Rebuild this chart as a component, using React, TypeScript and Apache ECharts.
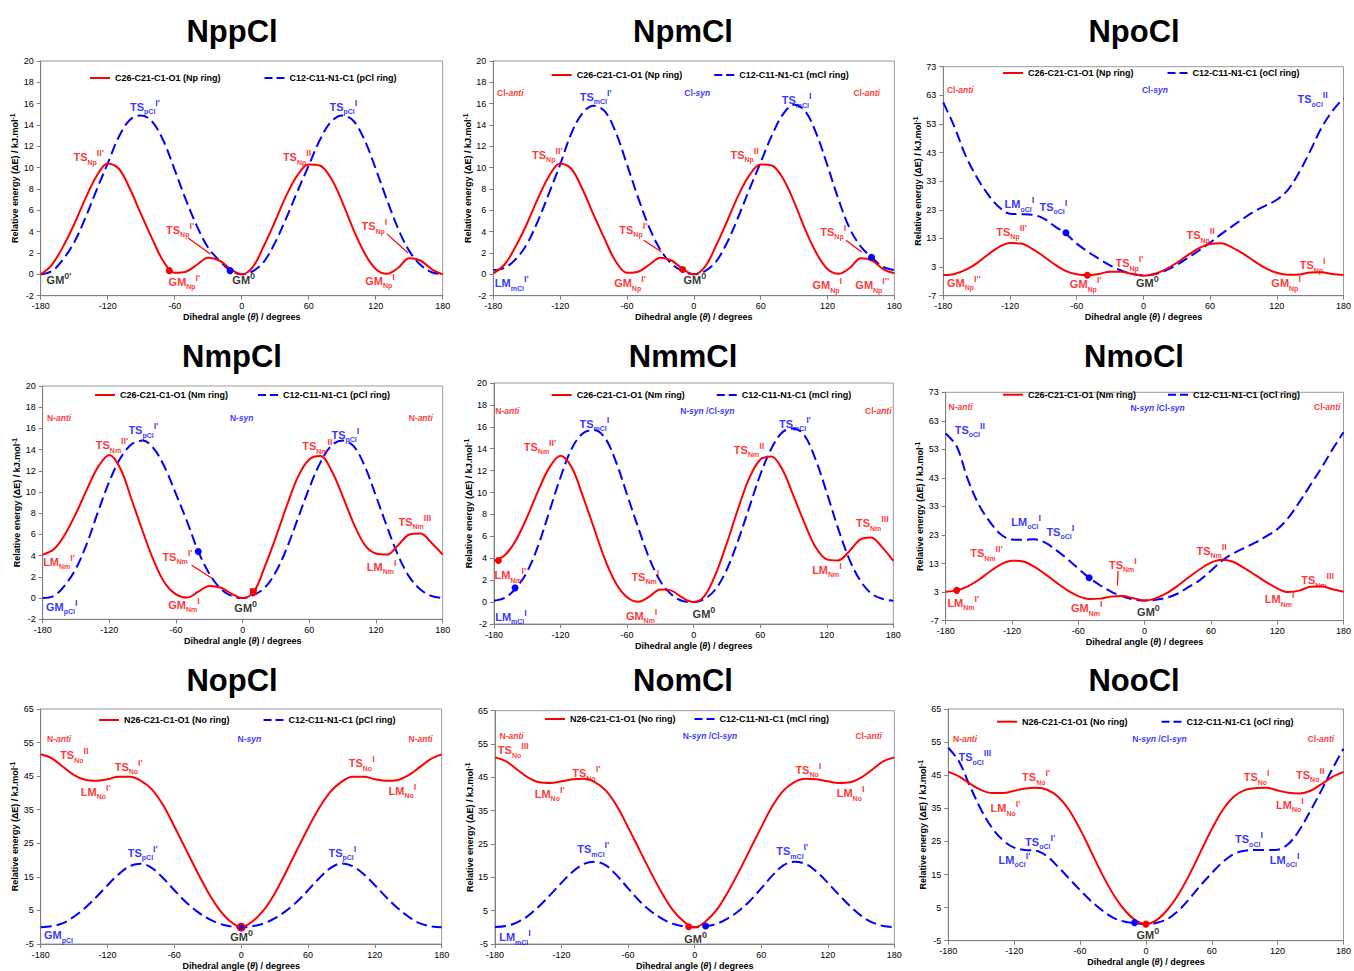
import { useEffect, useRef } from 'react';
import * as echarts from 'echarts';

const FONT = '"Liberation Sans", Arial, Helvetica, sans-serif';
const RED = '#ff0000';
const BLUE = '#0000ff';
const COLORS: Record<string, string> = { r: RED, b: BLUE, k: '#000000' };

// ---------- data ----------
const angles = [-180, -170, -160, -150, -140, -130, -120, -110, -100, -90, -80, -70, -60, -50, -40, -30, -20, -10, 0,
  10, 20, 30, 40, 50, 60, 70, 80, 90, 100, 110, 120, 130, 140, 150, 160, 170, 180];
const xTicks = [-180, -120, -60, 0, 60, 120, 180];
const yTicksSmall = [-2, 0, 2, 4, 6, 8, 10, 12, 14, 16, 18, 20];
const yTicksOCl = [-7, 3, 13, 23, 33, 43, 53, 63, 73];
const yTicksNo = [-5, 5, 15, 25, 35, 45, 55, 65];

const titles = ['NppCl', 'NpmCl', 'NpoCl', 'NmpCl', 'NmmCl', 'NmoCl', 'NopCl', 'NomCl', 'NooCl'];
const redNames = [
  'C26-C21-C1-O1 (Np ring)', 'C26-C21-C1-O1 (Np ring)', 'C26-C21-C1-O1 (Np ring)',
  'C26-C21-C1-O1 (Nm ring)', 'C26-C21-C1-O1 (Nm ring)', 'C26-C21-C1-O1 (Nm ring)',
  'N26-C21-C1-O1 (No ring)', 'N26-C21-C1-O1 (No ring)', 'N26-C21-C1-O1 (No ring)',
];
const blueNames = [
  'C12-C11-N1-C1 (pCl ring)', 'C12-C11-N1-C1 (mCl ring)', 'C12-C11-N1-C1 (oCl ring)',
  'C12-C11-N1-C1 (pCl ring)', 'C12-C11-N1-C1 (mCl ring)', 'C12-C11-N1-C1 (oCl ring)',
  'C12-C11-N1-C1 (pCl ring)', 'C12-C11-N1-C1 (mCl ring)', 'C12-C11-N1-C1 (oCl ring)',
];

const nppRed = [0, 0.9, 2.6, 4.7, 7.1, 9.2, 10.4, 9.9, 8.0, 5.6, 3.3, 1.2, 0.15, 0.25, 0.9, 1.55, 1.3, 0.5, 0,
  0.7, 2.7, 5.0, 7.4, 9.3, 10.3, 10.2, 9.0, 6.8, 4.2, 2.0, 0.5, 0.05, 0.6, 1.5, 1.3, 0.5, 0];
const nppBlue = [0, 0.3, 1.4, 3.0, 5.3, 7.9, 10.4, 12.9, 14.5, 14.9, 14.3, 12.5, 9.8, 7.0, 4.5, 2.5, 1.3, 0.35, 0,
  0.3, 1.2, 3.0, 5.3, 7.8, 10.2, 12.6, 14.3, 14.9, 14.4, 12.6, 9.9, 7.0, 4.3, 2.2, 0.9, 0.2, 0];
const npmRed = [0.1, 0.9, 2.6, 4.7, 7.1, 9.2, 10.4, 9.9, 8.0, 5.6, 3.3, 1.2, 0.15, 0.25, 0.9, 1.55, 1.3, 0.5, 0,
  0.7, 2.7, 5.0, 7.4, 9.3, 10.3, 10.2, 9.0, 6.8, 4.2, 2.0, 0.5, 0.05, 0.6, 1.5, 1.3, 0.5, 0.1];
const npmBlue = [0.4, 0.6, 1.4, 2.8, 5.0, 7.6, 10.3, 13.2, 15.1, 15.8, 15.3, 13.3, 10.3, 7.2, 4.4, 2.3, 1.0, 0.3, 0,
  0.3, 1.2, 3.0, 5.4, 8.0, 10.5, 13.0, 15.0, 15.9, 15.3, 13.2, 10.2, 7.0, 4.3, 2.6, 1.55, 0.7, 0.4];
const npoRed = [0.2, 0.6, 2.0, 4.3, 7.3, 10.0, 11.4, 11.2, 9.4, 6.8, 4.0, 1.7, 0.5, 0.15, 0.6, 1.4, 1.4, 0.6, 0,
  0.6, 2.2, 4.5, 7.2, 9.6, 11.1, 11.3, 9.8, 7.6, 5.0, 2.6, 1.0, 0.3, 0.4, 1.1, 1.2, 0.6, 0.2];
const npoBlue = [60.5, 52, 42, 34.5, 28.5, 24, 21.6, 21.5, 21.3, 20, 17.3, 14.7, 11.2, 8.4, 5.9, 3.6, 1.8, 0.6, 0.1,
  0.5, 1.8, 3.8, 6.2, 8.8, 11.5, 14.5, 17.3, 20, 22.5, 24.5, 26.5, 30, 36, 43.5, 51.5, 57.5, 62];
const nmpRed = [4.1, 4.6, 6.0, 8.0, 10.3, 12.4, 13.5, 12.2, 9.3, 6.3, 3.5, 1.4, 0.35, 0.05, 0.6, 1.15, 1.0, 0.4, 0,
  0.6, 3.0, 5.8, 8.8, 11.5, 13.1, 13.4, 12.0, 9.6, 7.0, 5.0, 4.2, 4.1, 5.0, 6.0, 6.1, 5.2, 4.1];
const nmpBlue = [0, 0.2, 1.2, 2.8, 5.2, 8.2, 11.0, 13.2, 14.5, 14.85, 14.1, 12.3, 9.8, 7.2, 4.4, 2.3, 0.9, 0.2, 0,
  0.3, 1.0, 2.5, 4.8, 7.6, 10.4, 12.8, 14.4, 14.85, 14.3, 12.4, 9.6, 6.7, 4.0, 2.0, 0.8, 0.2, 0];
const nmmRed = [3.77, 4.3, 5.7, 7.8, 10.2, 12.3, 13.36, 12.3, 9.7, 6.8, 3.9, 1.7, 0.45, 0.03, 0.5, 1.15, 1.05, 0.4, 0,
  0.6, 2.6, 5.4, 8.5, 11.3, 13.0, 13.3, 12.1, 9.7, 7.2, 5.0, 3.9, 3.8, 4.6, 5.7, 5.9, 5.0, 3.77];
const nmmBlue = [0.12, 0.4, 1.3, 2.8, 5.2, 8.3, 11.4, 14.0, 15.4, 15.7, 15.0, 12.8, 9.8, 6.8, 4.0, 1.9, 0.7, 0.1, 0,
  0.3, 1.2, 3.0, 5.6, 8.6, 11.6, 14.0, 15.5, 15.85, 15.2, 13.0, 10.0, 6.8, 4.0, 2.0, 0.8, 0.3, 0.12];
const nmoRed = [3.1, 3.6, 5.0, 7.3, 10.2, 12.7, 14.0, 13.7, 11.9, 9.3, 6.4, 3.7, 1.6, 0.6, 0.7, 1.4, 1.6, 0.8, 0,
  0.8, 2.6, 5.2, 8.2, 11.0, 13.3, 14.3, 13.6, 11.5, 9.0, 6.5, 4.3, 3.0, 3.5, 4.9, 5.0, 4.0, 3.1];
const nmoBlue = [58.6, 54, 42.5, 33.6, 27.6, 23.2, 21.4, 21.3, 21.5, 20.3, 17.7, 14.6, 11.2, 8.0, 5.3, 3.1, 1.5, 0.4, 0,
  0.3, 1.0, 2.5, 4.8, 7.2, 10.5, 14, 16.5, 18.4, 20.3, 22.5, 25, 29, 34.5, 40.5, 46.5, 53, 59];
const nopRed = [51.5, 50.3, 47.8, 45.3, 43.9, 43.6, 44.1, 44.8, 44.8, 43.6, 41.0, 36.3, 30.0, 23.4, 16.8, 10.6, 5.4, 1.8, 0,
  1.7, 5.0, 10.0, 16.3, 23.0, 29.5, 35.5, 40.3, 43.3, 44.8, 44.8, 44.1, 43.6, 43.8, 45.2, 47.6, 50.1, 51.5];
const nopBlue = [0, 0.3, 1.2, 3.2, 5.8, 9.0, 12.5, 15.8, 18.2, 18.9, 17.6, 14.6, 11.0, 7.6, 4.8, 2.6, 1.1, 0.3, 0,
  0.3, 1.1, 2.6, 4.8, 7.6, 11.0, 14.6, 17.6, 19.0, 18.2, 15.8, 12.5, 9.0, 5.8, 3.2, 1.2, 0.3, 0];
const nomRed = [51, 49.8, 47.3, 44.9, 43.5, 43.3, 43.8, 44.4, 44.6, 43.6, 41.0, 36.3, 30.0, 23.4, 16.8, 10.6, 5.3, 1.8, 0,
  1.8, 5.3, 10.6, 16.8, 23.4, 30.0, 36.3, 41.0, 43.6, 44.6, 44.4, 43.8, 43.3, 43.5, 44.9, 47.3, 49.8, 51];
const nomBlue = [0.1, 0.4, 1.5, 3.5, 6.4, 9.8, 13.4, 16.7, 19.0, 19.7, 18.6, 15.5, 11.7, 8.0, 5.0, 2.7, 1.1, 0.3, 0,
  0.3, 1.1, 2.7, 5.0, 8.0, 11.7, 15.5, 18.6, 19.7, 19.0, 16.7, 13.4, 9.8, 6.4, 3.5, 1.5, 0.4, 0.1];
const nooRed = [46, 44.6, 42.4, 40.5, 39.6, 39.6, 40.3, 41.0, 41.2, 40.6, 38.5, 34.5, 28.7, 22.0, 15.2, 9.2, 4.5, 1.3, 0,
  1.3, 4.5, 9.2, 15.2, 22.0, 28.7, 34.5, 38.5, 40.5, 41.1, 41.2, 40.4, 39.7, 39.5, 40.3, 42.3, 44.5, 46];
const nooBlue = [53.3, 49, 41.5, 34.5, 29, 25.3, 23.1, 22.4, 22.2, 20.5, 17.3, 13.8, 10.3, 7, 4.2, 2, 0.8, 0.3, 0,
  0.4, 1.6, 4.2, 7.8, 11.8, 15.4, 18.8, 21.2, 22.2, 22.4, 22.4, 22.5, 24.3, 28.5, 34.3, 40.5, 47, 53];

const redData = [nppRed, npmRed, npoRed, nmpRed, nmmRed, nmoRed, nopRed, nomRed, nooRed];
const blueData = [nppBlue, npmBlue, npoBlue, nmpBlue, nmmBlue, nmoBlue, nopBlue, nomBlue, nooBlue];
const yTickSets = [yTicksSmall, yTicksSmall, yTicksOCl, yTicksSmall, yTicksSmall, yTicksOCl, yTicksNo, yTicksNo, yTicksNo];

// ---------- annotation text helpers ----------
const L = (m: string, s = '', p = '') => `{m|${m}}` + (s ? `{s|${s}}` : '') + (p ? `{p|${p}}` : '');
const C = (a: string, b: string) => `{n|${a}}{i|${b}}`;
const NC = '{n|N-}{i|syn}{n| /Cl-}{i|syn}';

type Ann = [number, number, string, string];
const ann1: Ann[] = [
  [-137, 11.0, L('TS', 'Np', "II'"), 'r'], [-86.6, 15.7, L('TS', 'pCl', "I'"), 'b'], [91, 15.7, L('TS', 'pCl', 'I'), 'b'],
  [49.6, 11.0, L('TS', 'Np', 'II'), 'r'], [-55.2, 4.16, L('TS', 'Np', "I'"), 'r'], [118.8, 4.5, L('TS', 'Np', 'I'), 'r'],
  [-163.6, -0.53, L('GM', '', "0'"), 'k'], [-51.3, -0.7, L('GM', 'Np', "I'"), 'r'], [1.8, -0.53, L('GM', '', '0'), 'k'],
  [123.9, -0.6, L('GM', 'Np', 'I'), 'r'],
];
const ann2: Ann[] = [
  [-164.7, 17.0, C('Cl-', 'anti'), 'r'], [3.1, 17.0, C('Cl-', 'syn'), 'b'], [155.2, 17.0, C('Cl-', 'anti'), 'r'],
  [-88.1, 16.66, L('TS', 'mCl', "I'"), 'b'], [92.3, 16.3, L('TS', 'mCl', 'I'), 'b'],
  [-131.5, 11.2, L('TS', 'Np', "II'"), 'r'], [45.6, 11.2, L('TS', 'Np', 'II'), 'r'],
  [-54.3, 4.2, L('TS', 'Np', "I'"), 'r'], [125.2, 4.0, L('TS', 'Np', 'I'), 'r'],
  [-163.5, -0.84, L('LM', 'mCl', "I'"), 'b'], [-57.3, -0.84, L('GM', 'Np', "I'"), 'r'], [1, -0.53, L('GM', '', '0'), 'k'],
  [119.8, -1.0, L('GM', 'Np', 'I'), 'r'], [160.2, -1.0, L('GM', 'Np', "I''"), 'r'],
];
const ann3: Ann[] = [
  [-164.8, 64.85, C('Cl-', 'anti'), 'r'], [10.4, 64.85, C('Cl-', 'syn'), 'b'],
  [152.3, 61.6, L('TS', 'oCl', 'II'), 'b'], [-111.5, 24.9, L('LM', 'oCl', 'I'), 'b'], [-81, 24.1, L('TS', 'oCl', 'I'), 'b'],
  [-118.6, 15.4, L('TS', 'Np', "II'"), 'r'], [-161.5, -2.5, L('GM', 'Np', "I''"), 'r'], [-51.9, -3.0, L('GM', 'Np', "I'"), 'r'],
  [-12.5, 4.3, L('TS', 'Np', "I'"), 'r'], [3.6, -2.7, L('GM', '', '0'), 'k'], [51.5, 14.2, L('TS', 'Np', 'II'), 'r'],
  [128.4, -2.7, L('GM', 'Np', 'I'), 'r'], [152.3, 3.7, L('TS', 'Np', 'I'), 'r'],
];
const ann4: Ann[] = [
  [-165.3, 16.95, C('N-', 'anti'), 'r'], [-0.9, 16.95, C('N-', 'syn'), 'b'], [160.2, 16.95, C('N-', 'anti'), 'r'],
  [-89.4, 15.85, L('TS', 'pCl', "I'"), 'b'], [-117.6, 14.4, L('TS', 'Nm', "II'"), 'r'], [67.2, 14.3, L('TS', 'Nm', 'II'), 'r'],
  [92.4, 15.4, L('TS', 'pCl', 'I'), 'b'], [155, 7.2, L('TS', 'Nm', 'III'), 'r'], [-165.3, 3.44, L('LM', 'Nm', "I'"), 'r'],
  [-162.9, -0.8, L('GM', 'pCl', 'I'), 'b'], [-58.8, 3.9, L('TS', 'Nm', "I'"), 'r'], [-52.8, -0.65, L('GM', 'Nm', 'I'), 'r'],
  [2.7, -0.96, L('GM', '', '0'), 'k'], [125.1, 2.97, L('LM', 'Nm', 'I'), 'r'],
];
const ann5: Ann[] = [
  [-168, 17.44, C('N-', 'anti'), 'r'], [12.3, 17.44, NC, 'b'], [166.5, 17.44, C('Cl-', 'anti'), 'r'],
  [-89.5, 16.3, L('TS', 'mCl', 'I'), 'b'], [91.3, 16.3, L('TS', 'mCl', "I'"), 'b'],
  [-138.5, 14.2, L('TS', 'Nm', "II'"), 'r'], [49.9, 13.9, L('TS', 'Nm', 'II'), 'r'], [161.1, 7.2, L('TS', 'Nm', 'III'), 'r'],
  [-165.3, 2.47, L('LM', 'Nm', "I'"), 'r'], [-164.7, -1.33, L('LM', 'mCl', 'I'), 'b'], [-43.6, 2.32, L('TS', 'Nm', 'I'), 'r'],
  [-46.9, -1.24, L('GM', 'Nm', 'I'), 'r'], [9.3, -1.12, L('GM', '', '0'), 'k'], [120.2, 2.93, L('LM', 'Nm', 'I'), 'r'],
];
const ann6: Ann[] = [
  [-166.5, 67.7, C('N-', 'anti'), 'r'], [11.8, 67.4, NC, 'b'], [165.3, 67.7, C('Cl-', 'anti'), 'r'],
  [-158.1, 59.8, L('TS', 'oCl', 'II'), 'b'], [-107.2, 27.7, L('LM', 'oCl', 'I'), 'b'], [-76.3, 24.2, L('TS', 'oCl', 'I'), 'b'],
  [-143.1, 16.6, L('TS', 'Nm', "II'"), 'r'], [-164.1, -0.7, L('LM', 'Nm', "I'"), 'r'], [-19.6, 12.5, L('TS', 'Nm', 'I'), 'r'],
  [-52.3, -2.7, L('GM', 'Nm', 'I'), 'r'], [3.5, -4.1, L('GM', '', '0'), 'k'], [60.7, 17.4, L('TS', 'Nm', 'II'), 'r'],
  [122.2, 0.5, L('LM', 'Nm', 'I'), 'r'], [156.6, 7.2, L('TS', 'Nm', 'III'), 'r'],
];
const ann7: Ann[] = [
  [-163.5, 56, C('N-', 'anti'), 'r'], [7.3, 56, C('N-', 'syn'), 'b'], [161.1, 56, C('N-', 'anti'), 'r'],
  [-149.8, 51.2, L('TS', 'No', 'II'), 'r'], [-101, 47.8, L('TS', 'No', "I'"), 'r'], [-130.6, 40.4, L('LM', 'No', "I'"), 'r'],
  [108.2, 48.8, L('TS', 'No', 'I'), 'r'], [144.7, 40.6, L('LM', 'No', 'I'), 'r'],
  [-88.4, 22.2, L('TS', 'pCl', "I'"), 'b'], [90.8, 22.2, L('TS', 'pCl', 'I'), 'b'],
  [-164.1, -2.4, L('GM', 'pCl', ''), 'b'], [0.4, -2.9, L('GM', '', '0'), 'k'],
];
const ann8: Ann[] = [
  [-165, 57.4, C('N-', 'anti'), 'r'], [13.8, 57.4, NC, 'b'], [156.9, 57.4, C('Cl-', 'anti'), 'r'],
  [-163.5, 53.2, L('TS', 'No', 'III'), 'r'], [-97.7, 46.3, L('TS', 'No', "I'"), 'r'], [-130.7, 40.1, L('LM', 'No', "I'"), 'r'],
  [102.5, 47.3, L('TS', 'No', 'I'), 'r'], [140.6, 40.3, L('LM', 'No', 'I'), 'r'],
  [-91.4, 23.4, L('TS', 'mCl', "I'"), 'b'], [88, 22.9, L('TS', 'mCl', "I'"), 'b'],
  [-162, -3, L('LM', 'mCl', 'I'), 'b'], [0.9, -3.5, L('GM', '', '0'), 'k'],
];
const ann9: Ann[] = [
  [-164.8, 55.9, C('N-', 'anti'), 'r'], [12.4, 55.9, NC, 'b'], [159.4, 55.9, C('Cl-', 'anti'), 'r'],
  [-155.8, 50.4, L('TS', 'oCl', 'III'), 'b'], [-100, 44.4, L('TS', 'No', "I'"), 'r'], [-127.9, 35, L('LM', 'No', "I'"), 'r'],
  [100.9, 44.4, L('TS', 'No', 'I'), 'r'], [149.7, 45.1, L('TS', 'No', 'II'), 'r'], [131.2, 36, L('LM', 'No', 'I'), 'r'],
  [-96.4, 24.9, L('TS', 'oCl', "I'"), 'b'], [-119.7, 19.4, L('LM', 'oCl', "I'"), 'b'],
  [93.9, 25.6, L('TS', 'oCl', 'I'), 'b'], [126.4, 19.4, L('LM', 'oCl', 'I'), 'b'], [1.8, -3.3, L('GM', '', '0'), 'k'],
];
const annotations = [ann1, ann2, ann3, ann4, ann5, ann6, ann7, ann8, ann9];

// highlighted points: [angle, energy, colour, shape, size]
type Dot = [number, number, string, string, number];
const dots: Dot[][] = [
  [[-64.8, 0.35, 'r', 'circle', 7], [-10.4, 0.35, 'b', 'circle', 7]],
  [[-10, 0.45, 'r', 'circle', 7], [159.6, 1.6, 'b', 'circle', 7]],
  [[-50.4, 0.15, 'r', 'circle', 7], [-69.7, 15, 'b', 'circle', 7]],
  [[-40, 4.4, 'b', 'circle', 7], [9.6, 0.6, 'r', 'rect', 7]],
  [[-176, 3.8, 'r', 'circle', 7], [-161, 1.3, 'b', 'circle', 7]],
  [[-170, 3.6, 'r', 'circle', 7], [-50.2, 8, 'b', 'circle', 7]],
  [[0, 0, 'r', 'circle', 9], [0, 0, 'b', 'circle', 5]],
  [[-5.4, 0.2, 'r', 'circle', 7], [9.9, 0.4, 'b', 'circle', 7]],
  [[-10.3, 0.45, 'b', 'circle', 7], [0, 0, 'r', 'circle', 7]],
];
// arrows: [fromAngle, fromE, toAngle, toE]
const arrows: number[][][] = [
  [[-48, 3.4, -28, 1.9], [130, 3.8, 149, 2.0]],
  [[-45, 3.2, -29, 2.1], [136.6, 3.2, 150.7, 2.1]],
  [],
  [[-45.9, 3.1, -28, 1.9]],
  [],
  [[-24, 10.4, -24.6, 5.3]],
  [], [], [],
];

// ---------- layout ----------
const gridBoxes = [
  [40.7, 61, 402, 234.7], [493.3, 61, 401, 234.7], [943.3, 66.7, 402.7, 229],
  [42.7, 386, 400, 233.3], [494, 383, 399.3, 241], [945.7, 392.3, 400.3, 228.3],
  [40.7, 709, 401, 241.7], [495, 710.7, 399.3, 234.3], [948.3, 709, 396, 231.7],
];
const titlePos = [[232, 31], [683, 31], [1134, 31], [232, 356], [683, 356], [1134, 356], [232, 680], [683, 680], [1134, 680]];
const legendPos = [[90, 79], [551.7, 76], [1003, 74], [95, 396], [551.7, 396], [1003, 395.7], [99, 721], [545, 720], [997, 722.7]];
const legendGaps = [44, 32, 34, 30, 32, 32, 34, 19, 34];

const SOLID_ICON = 'path://M0,0 L20,0 L20,2 L0,2 Z';
const DASH_ICON = 'path://M0,0 L8,0 L8,2 L0,2 Z M12,0 L20,0 L20,2 L12,2 Z';

const RICH = {
  m: { fontSize: 11, fontWeight: 'bold', fontFamily: FONT, lineHeight: 17, verticalAlign: 'middle' },
  s: { fontSize: 7, fontWeight: 'bold', fontFamily: FONT, lineHeight: 8, verticalAlign: 'bottom' },
  p: { fontSize: 9, fontWeight: 'bold', fontFamily: FONT, lineHeight: 9, verticalAlign: 'top' },
  n: { fontSize: 8.5, fontWeight: 'bold', fontFamily: FONT },
  i: { fontSize: 8.5, fontWeight: 'bold', fontStyle: 'italic', fontFamily: FONT },
};

function buildOption() {
  const grid = gridBoxes.map((g) => ({
    left: g[0], top: g[1], width: g[2], height: g[3],
    show: true, borderColor: '#9a9a9a', borderWidth: 1, backgroundColor: 'transparent', containLabel: false,
  }));
  const xAxis = gridBoxes.map((_, i) => ({
    type: 'value', gridIndex: i, min: -180, max: 180, interval: 60,
    axisLine: { onZero: false, lineStyle: { color: '#808080', width: 1 } },
    axisTick: { show: true, length: 4, lineStyle: { color: '#808080' }, customValues: xTicks },
    axisLabel: { color: '#000', fontSize: 9, fontFamily: FONT, margin: 6, customValues: xTicks },
    splitLine: { show: false },
    name: '{b|Dihedral angle (}{bi|θ}{b|) / degrees}',
    nameLocation: 'middle', nameGap: 17,
    nameTextStyle: {
      rich: {
        b: { fontSize: 9, fontWeight: 'bold', fontFamily: FONT, color: '#000' },
        bi: { fontSize: 9, fontWeight: 'bold', fontStyle: 'italic', fontFamily: FONT, color: '#000' },
      },
    },
  }));
  const yAxis = gridBoxes.map((_, i) => {
    const t = yTickSets[i];
    return {
      type: 'value', gridIndex: i, min: t[0], max: t[t.length - 1],
      axisLine: { show: true, onZero: false, lineStyle: { color: '#808080', width: 1 } },
      axisTick: { show: true, length: 4, lineStyle: { color: '#808080' }, customValues: t },
      axisLabel: { color: '#000', fontSize: 9, fontFamily: FONT, margin: 7, customValues: t },
      splitLine: { show: false },
      name: '{b|Relative energy (ΔE) / kJ.mol}{p|-1}',
      nameLocation: 'middle', nameGap: 16, nameRotate: 90,
      nameTextStyle: {
        rich: {
          b: { fontSize: 9, fontWeight: 'bold', fontFamily: FONT, color: '#000', lineHeight: 12, verticalAlign: 'middle' },
          p: { fontSize: 6.5, fontWeight: 'bold', fontFamily: FONT, color: '#000', lineHeight: 6, verticalAlign: 'top' },
        },
      },
    };
  });

  const series: any[] = [];
  gridBoxes.forEach((_, i) => {
    series.push({
      type: 'line', name: blueNames[i], xAxisIndex: i, yAxisIndex: i,
      data: angles.map((a, k) => [a, blueData[i][k]]),
      smooth: 0.35, symbol: 'none', silent: true, z: 2,
      lineStyle: { color: BLUE, width: 2, type: [11, 5] }, itemStyle: { color: BLUE },
    });
    series.push({
      type: 'line', name: redNames[i], xAxisIndex: i, yAxisIndex: i,
      data: angles.map((a, k) => [a, redData[i][k]]),
      smooth: 0.35, symbol: 'none', silent: true, z: 3,
      lineStyle: { color: RED, width: 2 }, itemStyle: { color: RED },
      markPoint: {
        silent: true, label: { show: false },
        data: dots[i].map((d) => ({
          coord: [d[0], d[1]], symbol: d[3], symbolSize: d[4],
          itemStyle: { color: COLORS[d[2]] },
        })),
      },
      markLine: {
        silent: true, symbol: ['none', 'arrow'], symbolSize: [0, 7], label: { show: false },
        lineStyle: { color: RED, width: 1.2, type: 'solid' },
        data: arrows[i].map((a) => [{ coord: [a[0], a[1]] }, { coord: [a[2], a[3]] }]),
      },
    });
    series.push({
      type: 'scatter', name: 'ann' + i, xAxisIndex: i, yAxisIndex: i, silent: true, z: 10,
      symbolSize: 1, itemStyle: { color: 'rgba(0,0,0,0)' },
      data: annotations[i].map((a) => ({ name: a[2], value: [a[0], a[1]], label: { color: COLORS[a[3]] } })),
      label: { show: true, position: 'inside', formatter: (p: any) => p.name, fontFamily: FONT, fontWeight: 'bold', rich: RICH },
    });
  });

  const legend = gridBoxes.map((_, i) => ({
    data: [
      { name: redNames[i], icon: SOLID_ICON },
      { name: blueNames[i], icon: DASH_ICON },
    ],
    left: legendPos[i][0], top: legendPos[i][1] - 5.5,
    orient: 'horizontal', itemGap: legendGaps[i], itemWidth: 20, itemHeight: 2, padding: 0, selectedMode: false,
    textStyle: { fontSize: 9, fontWeight: 'bold', color: '#000', fontFamily: FONT },
  }));

  const graphic = titles.map((t, i) => ({
    type: 'text', x: titlePos[i][0], y: titlePos[i][1], silent: true,
    style: {
      text: t, fill: '#000', font: `bold 31px ${FONT}`,
      align: 'center', verticalAlign: 'middle', textAlign: 'center', textVerticalAlign: 'middle',
    },
  }));

  return {
    animation: false,
    backgroundColor: '#ffffff',
    grid, xAxis, yAxis, series, legend, graphic,
  };
}

export default function App() {
  const ref = useRef<HTMLDivElement>(null);
  useEffect(() => {
    if (!ref.current) return;
    const chart = echarts.init(ref.current, undefined, { renderer: 'svg' });
    chart.setOption(buildOption() as any);
    return () => chart.dispose();
  }, []);
  return (
    <div
      ref={ref}
      style={{ position: 'fixed', left: 0, top: 0, width: 1354, height: 971, background: '#fff' }}
    />
  );
}
